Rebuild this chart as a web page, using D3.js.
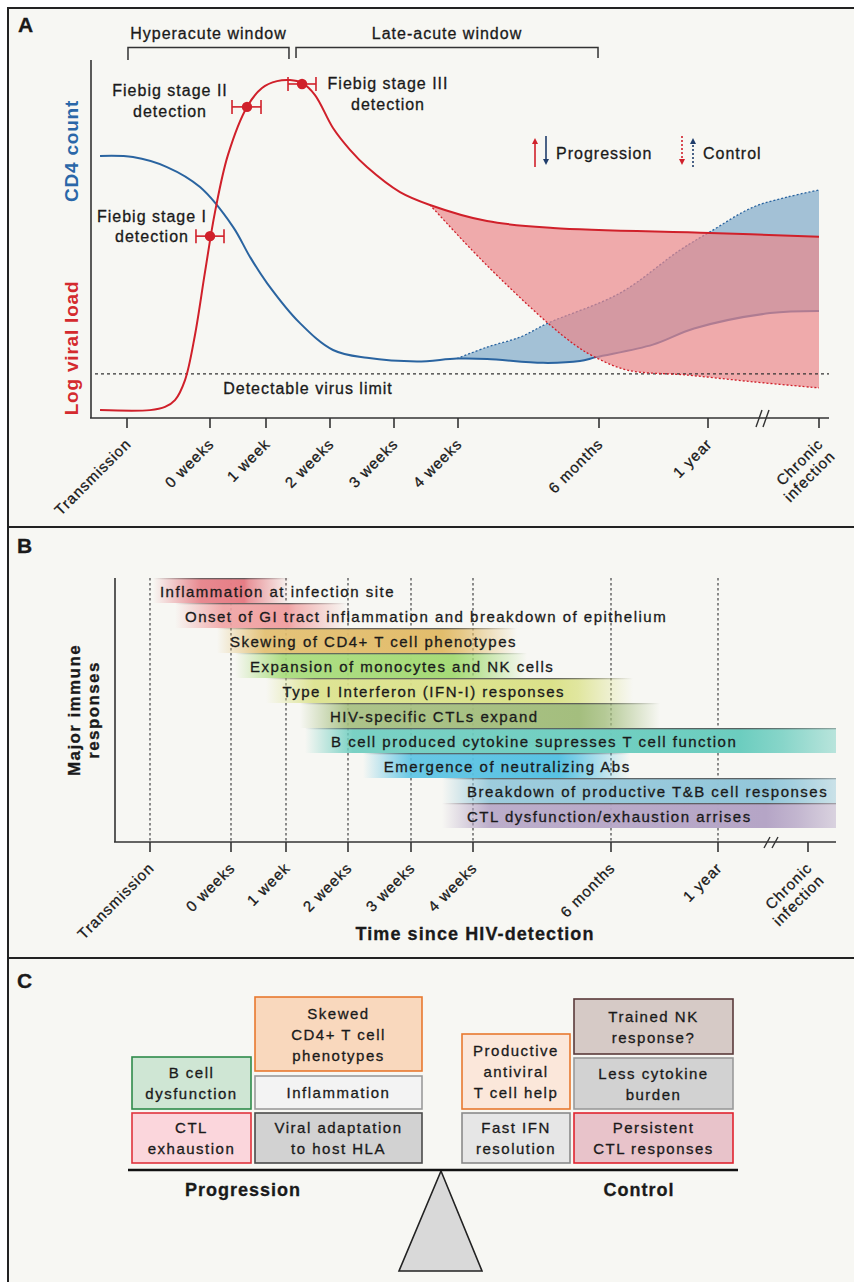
<!DOCTYPE html>
<html><head><meta charset="utf-8">
<script src="https://cdn.jsdelivr.net/npm/d3@7"></script>
<style>
body{margin:0;background:#fff}
svg{display:block}
text{font-family:"Liberation Sans",Arial,Helvetica,sans-serif;fill:#1a1a1a;stroke:#1a1a1a;stroke-width:0.3px}
</style>
</head><body>
<svg id="chart" width="854" height="1282"></svg>
<script>
// ================= DATA =================
// Time axis: tick positions in ordinal time units (0 = Transmission ... 8 = Chronic infection)
const tickTimes  = [0, 1, 2, 3, 4, 5, 6, 7, 8];
const tickLabels = ["Transmission", "0 weeks", "1 week", "2 weeks", "3 weeks", "4 weeks", "6 months", "1 year", "Chronic|infection"];

// Panel A: relative levels (0-100)
const viralLoad = [[-0.325,2.2],[0.277,2.2],[0.458,3.1],[0.578,5.0],[0.699,10.6],[0.819,23.2],[0.940,40.8],[1.089,57.5],[1.321,73.5],[1.661,86.9],[1.929,92.2],[2.172,94.1],[2.375,94.4],[2.563,93.6],[2.766,90.2],[3.047,81.0],[3.313,74.9],[3.578,70.1],[4.094,63.1],[4.563,59.5],[5.206,55.0],[5.674,53.1],[7.018,51.7],[8.0,50.6]];
const cd4Count = [[-0.325,73.2],[0.072,72.9],[0.482,70.1],[0.880,64.5],[1.411,53.4],[1.714,45.0],[2.016,37.7],[2.531,26.5],[3.047,19.0],[3.578,16.8],[4.359,15.8],[4.984,16.6],[5.206,16.5],[5.603,15.4],[5.865,15.9],[5.979,17.0],[6.495,20.5],[6.872,25.0],[7.559,29.3],[8.0,29.9]];
const cd4ControlUpper = [[4.984,16.6],[5.206,19.8],[5.440,22.6],[5.638,26.5],[6.193,34.9],[6.743,46.9],[7.018,52.0],[7.405,58.9],[7.712,61.7],[8.0,63.7]];
const viralControlLower = [[4.563,59.5],[5.099,46.9],[5.369,36.3],[5.638,26.5],[5.830,20.4],[5.957,17.3],[6.257,13.4],[6.807,12.0],[7.405,10.1],[8.0,8.4]];
const detectLimit = 12.3;
const fiebigNames = ["Fiebig stage I", "Fiebig stage II", "Fiebig stage III"];
const fiebigTime  = [1.0, 1.661, 2.563];
const fiebigLo    = [0.831, 1.393, 2.344];
const fiebigHi    = [1.25, 1.911, 2.781];
const fiebigLevel = [50.8, 86.9, 93.3];
const windowNames = ["Hyperacute window", "Late-acute window"];
const windowFrom  = [0.012, 2.469];
const windowTo    = [2.359, 5.993];

// Panel B
const responses = ["Inflammation at infection site","Onset of GI tract inflammation and breakdown of epithelium","Skewing of CD4+ T cell phenotypes","Expansion of monocytes and NK cells","Type I Interferon (IFN-I) responses","HIV-specific CTLs expand","B cell produced cytokine supresses T cell function","Emergence of neutralizing Abs","Breakdown of productive T&B cell responses","CTL dysfunction/exhaustion arrises"];
const respStart   = [0.037, 0.309, 0.827, 1.073, 1.636, 2.226, 2.306, 3.238, 4.5, 4.5];
const respEnd     = [2.065, 2.984, 5.319, 5.391, 6.206, 6.458, 8.311, 6.178, 8.311, 8.311];
const respLabelAt = [0.123, 0.432, 0.988, 1.345, 1.935, 2.710, 2.726, 3.567, 4.903, 4.903];

// Panel C
const progressionFactors = ["B cell|dysfunction","CTL|exhaustion","Skewed|CD4+ T cell|phenotypes","Inflammation","Viral adaptation|to host HLA"];
const controlFactors = ["Productive|antiviral|T cell help","Fast IFN|resolution","Trained NK|response?","Less cytokine|burden","Persistent|CTL responses"];

// ================= STYLE / LAYOUT =================
const respColors = ["#e67d85","#f0a2a3","#e2bd6c","#a6db78","#dbe28a","#a4be7e","#6ccdbf","#58c2e3","#93c7da","#b5a5c6"];
const fiebigLabelOff = [[-58,-14,6],[-77,-11,10],[86,5,26]];
const progBoxes = [
  {x:132,y:1057,w:119,h:52,fill:"#cfe6d4",stroke:"#2e8b4a"},
  {x:132,y:1113,w:119,h:50,fill:"#fbd6dc",stroke:"#e0323c"},
  {x:255,y:997,w:167,h:74,fill:"#f9d8bd",stroke:"#e8792f"},
  {x:255,y:1076,w:167,h:33,fill:"#f3f3f3",stroke:"#9a9a9a"},
  {x:255,y:1113,w:167,h:50,fill:"#d2d2d2",stroke:"#4a4a4a"}];
const ctrlBoxes = [
  {x:462,y:1034,w:108,h:75,fill:"#fbe7da",stroke:"#e8792f"},
  {x:462,y:1113,w:108,h:50,fill:"#e6e6e6",stroke:"#8a8a8a"},
  {x:574,y:999,w:159,h:55,fill:"#d6cac6",stroke:"#5a3a3a"},
  {x:574,y:1058,w:159,h:51,fill:"#d2d2d2",stroke:"#9a9a9a"},
  {x:574,y:1113,w:159,h:50,fill:"#e8c3ca",stroke:"#e0232f"}];

const RED = "#d0202a", BLUE = "#2a64a0", NAVY = "#1f3d6b", BG = "#f7f7f3", INK = "#1a1a1a";

const svg = d3.select("#chart");
const defs = svg.append("defs");

// background + frame
svg.append("rect").attr("x",7).attr("y",7).attr("width",847).attr("height",1275).attr("fill",BG);
svg.append("line").attr("x1",7).attr("x2",854).attr("y1",8).attr("y2",8).attr("stroke","#222").attr("stroke-width",2);
svg.append("line").attr("x1",8).attr("x2",8).attr("y1",7).attr("y2",1282).attr("stroke","#222").attr("stroke-width",2);
svg.append("line").attr("x1",7).attr("x2",854).attr("y1",527).attr("y2",527).attr("stroke","#222").attr("stroke-width",2);
svg.append("line").attr("x1",7).attr("x2",854).attr("y1",958).attr("y2",958).attr("stroke","#222").attr("stroke-width",2);

function panelLabel(t, x, y){ svg.append("text").attr("x",x).attr("y",y).attr("font-size",21).attr("font-weight","bold").text(t); }
panelLabel("A",18,32); panelLabel("B",17,553); panelLabel("C",17,988);

function arrowMarker(id, color){
  defs.append("marker").attr("id",id).attr("viewBox","0 0 10 10").attr("refX",5).attr("refY",5)
    .attr("markerWidth",6).attr("markerHeight",8).attr("orient","auto-start-reverse").attr("markerUnits","userSpaceOnUse")
    .append("path").attr("d","M0,0 L10,5 L0,10 Z").attr("fill",color);
}
arrowMarker("arR",RED); arrowMarker("arN",NAVY);

// ================= PANEL A =================
const xA = d3.scaleLinear().domain(tickTimes).range([127,210,266,330,394,458,599,708,819]);
const yA = d3.scaleLinear().domain([0,100]).range([418,60]);
const lineA = d3.line().x(d=>xA(d[0])).y(d=>yA(d[1])).curve(d3.curveCatmullRom.alpha(0.5));
function band(upper, lower){
  const a = lineA(upper), b = lineA(lower.slice().reverse());
  return a + "L" + b.slice(1) + "Z";
}
const gA = svg.append("g");

// blue control band
const cd4Lower = cd4Count.filter(d=>d[0] >= cd4ControlUpper[0][0]);
gA.append("path").attr("d",band(cd4ControlUpper, cd4Lower)).attr("fill","rgb(107,157,195)").attr("fill-opacity",0.6);
gA.append("path").attr("d",lineA(cd4Count)).attr("fill","none").attr("stroke",BLUE).attr("stroke-width",2);
gA.append("path").attr("d",lineA(cd4ControlUpper)).attr("fill","none").attr("stroke",BLUE).attr("stroke-width",1.3).attr("stroke-dasharray","2,2");
// pink control band
const vlUpper = viralLoad.filter(d=>d[0] >= viralControlLower[0][0]);
gA.append("path").attr("d",band(vlUpper, viralControlLower)).attr("fill","rgb(234,135,139)").attr("fill-opacity",0.69);
// detection limit
gA.append("line").attr("x1",95).attr("x2",829).attr("y1",yA(detectLimit)).attr("y2",yA(detectLimit))
  .attr("stroke","#333").attr("stroke-width",1.2).attr("stroke-dasharray","3,3");
gA.append("text").attr("x",308).attr("y",394).attr("text-anchor","middle").attr("font-size",16).attr("letter-spacing",1).text("Detectable virus limit");
// red
gA.append("path").attr("d",lineA(viralLoad)).attr("fill","none").attr("stroke",RED).attr("stroke-width",2);
gA.append("path").attr("d",lineA(viralControlLower)).attr("fill","none").attr("stroke",RED).attr("stroke-width",1.3).attr("stroke-dasharray","2,2");

// Fiebig points
fiebigTime.forEach((t,i)=>{
  const cx = xA(t), cy = yA(fiebigLevel[i]);
  const g = gA.append("g");
  g.append("line").attr("x1",xA(fiebigLo[i])).attr("x2",xA(fiebigHi[i])).attr("y1",cy).attr("y2",cy).attr("stroke",RED).attr("stroke-width",1.6);
  [fiebigLo[i],fiebigHi[i]].forEach(e=>g.append("line").attr("x1",xA(e)).attr("x2",xA(e)).attr("y1",cy-7).attr("y2",cy+7).attr("stroke",RED).attr("stroke-width",1.6));
  g.append("circle").attr("cx",cx).attr("cy",cy).attr("r",5.2).attr("fill",RED);
  const o = fiebigLabelOff[i];
  g.append("text").attr("x",cx+o[0]).attr("y",cy+o[1]).attr("text-anchor","middle").attr("font-size",16).attr("letter-spacing",1).text(fiebigNames[i]);
  g.append("text").attr("x",cx+o[0]).attr("y",cy+o[2]).attr("text-anchor","middle").attr("font-size",16).attr("letter-spacing",1).text("detection");
});

// windows brackets
windowNames.forEach((n,i)=>{
  const x1 = xA(windowFrom[i]), x2 = xA(windowTo[i]);
  gA.append("path").attr("d",`M${x1},${i?58:60}V47.5H${x2}V${i?58:59}`).attr("fill","none").attr("stroke","#333").attr("stroke-width",1.5);
  gA.append("text").attr("x",(x1+x2)/2).attr("y",39).attr("text-anchor","middle").attr("font-size",16).attr("letter-spacing",1).text(n);
});

// axes A
gA.append("line").attr("x1",91).attr("x2",91).attr("y1",60).attr("y2",418).attr("stroke","#333").attr("stroke-width",1.6);
gA.append("line").attr("x1",90).attr("x2",829).attr("y1",418).attr("y2",418).attr("stroke","#333").attr("stroke-width",1.6);
gA.append("path").attr("d","M756,427L762,410M763,427L769,410").attr("stroke","#333").attr("stroke-width",1.4);
function tickLabelsAt(g, xs, axisY, labY){
  tickTimes.forEach((t,i)=>{
    const x = xs(t);
    g.append("line").attr("x1",x).attr("x2",x).attr("y1",axisY).attr("y2",axisY+10).attr("stroke","#333").attr("stroke-width",1.6);
    const parts = tickLabels[i].split("|");
    const tx = g.append("text").attr("transform",`translate(${x+5},${labY}) rotate(-45)`).attr("text-anchor","end").attr("font-size",15).attr("letter-spacing",1);
    parts.forEach((p,j)=>tx.append("tspan").attr("x",0).attr("dy",j?17:0).text(p));
  });
}
tickLabelsAt(gA, xA, 418, 445);

// y-axis titles
gA.append("text").attr("transform","translate(78,151) rotate(-90)").attr("text-anchor","middle").attr("font-size",19).attr("font-weight","bold").attr("letter-spacing",0.8).style("fill","#2a67a8").style("stroke","none").text("CD4 count");
gA.append("text").attr("transform","translate(78,348) rotate(-90)").attr("text-anchor","middle").attr("font-size",19).attr("font-weight","bold").attr("letter-spacing",0.8).style("fill","#d42a2e").style("stroke","none").text("Log viral load");

// legend
function legArrow(x, y1, y2, color, mk, dashed){
  gA.append("line").attr("x1",x).attr("x2",x).attr("y1",y1).attr("y2",y2).attr("stroke",color).attr("stroke-width",1.6)
    .attr("stroke-dasharray",dashed?"2,2":null).attr("marker-end",`url(#${mk})`);
}
legArrow(535,167,141,RED,"arR",false);
legArrow(546,136,162,NAVY,"arN",false);
gA.append("text").attr("x",556).attr("y",159).attr("font-size",16).attr("letter-spacing",1).text("Progression");
legArrow(682,136,162,RED,"arR",true);
legArrow(693,167,141,NAVY,"arN",true);
gA.append("text").attr("x",703).attr("y",159).attr("font-size",16).attr("letter-spacing",1).text("Control");

// ================= PANEL B =================
const xB = d3.scaleLinear().domain(tickTimes).range([150,231,286,348,411,473,611,718,808]);
const rowY = d3.scaleBand().domain(d3.range(responses.length)).range([578,828]).padding(0);
const gB = svg.append("g");
// grid
tickTimes.slice(0,8).forEach(t=>{
  gB.append("line").attr("x1",xB(t)).attr("x2",xB(t)).attr("y1",578).attr("y2",842).attr("stroke","#333").attr("stroke-width",1.1).attr("stroke-dasharray","2.5,2.5");
});
responses.forEach((r,i)=>{
  const x0 = xB(respStart[i]), x1 = Math.min(xB(respEnd[i]), 836), y = rowY(i), h = rowY.bandwidth();
  const open = respEnd[i] > 8;
  const w = x1 - x0;
  const fin = Math.min(0.35, 48/w), fout = open ? 0.9 : 1 - Math.min(0.3, 55/w);
  const gid = "bg"+i, lid = "bl"+i;
  const gr = defs.append("linearGradient").attr("id",gid).attr("gradientUnits","userSpaceOnUse").attr("x1",x0).attr("x2",x1).attr("y1",0).attr("y2",0);
  const stops = [[0,0.0],[fin,0.9],[fout*0.9 + fin*0.1,1],[fout,0.8],[1,open?0.45:0]];
  stops.forEach(s=>gr.append("stop").attr("offset",s[0]).attr("stop-color",respColors[i]).attr("stop-opacity",s[1]));
  const lg = defs.append("linearGradient").attr("id",lid).attr("gradientUnits","userSpaceOnUse").attr("x1",x0).attr("x2",x1).attr("y1",0).attr("y2",0);
  stops.forEach(s=>lg.append("stop").attr("offset",s[0]).attr("stop-color","#555").attr("stop-opacity",s[1]*0.9));
  gB.append("rect").attr("x",x0).attr("y",y).attr("width",w).attr("height",h).attr("fill",`url(#${gid})`);
  gB.append("rect").attr("x",x0).attr("y",y).attr("width",w).attr("height",1.3).attr("fill",`url(#${lid})`);
  gB.append("text").attr("x",xB(respLabelAt[i])).attr("y",y+18.5).attr("font-size",15).attr("letter-spacing",1.5).text(r);
});
gB.append("line").attr("x1",115).attr("x2",115).attr("y1",578).attr("y2",842).attr("stroke","#333").attr("stroke-width",1.6);
gB.append("line").attr("x1",114).attr("x2",836).attr("y1",842).attr("y2",842).attr("stroke","#333").attr("stroke-width",1.6);
gB.append("path").attr("d","M764,848L770,837M772,848L778,837").attr("stroke","#333").attr("stroke-width",1.4);
tickLabelsAt(gB, xB, 842, 869);
gB.append("text").attr("x",475).attr("y",940).attr("text-anchor","middle").attr("font-size",18).attr("font-weight","bold").attr("letter-spacing",1.1).text("Time since HIV-detection");
const yt = gB.append("text").attr("transform","translate(80,710) rotate(-90)").attr("text-anchor","middle").attr("font-size",17).attr("font-weight","bold").attr("letter-spacing",1.4);
yt.append("tspan").attr("x",0).attr("dy",0).text("Major immune");
yt.append("tspan").attr("x",0).attr("dy",19).text("responses");

// ================= PANEL C =================
const gC = svg.append("g");
function boxes(labels, layout){
  labels.forEach((l,i)=>{
    const b = layout[i];
    gC.append("rect").attr("x",b.x).attr("y",b.y).attr("width",b.w).attr("height",b.h).attr("fill",b.fill).attr("stroke",b.stroke).attr("stroke-width",1.6);
    const lines = l.split("|");
    const cy = b.y + b.h/2;
    lines.forEach((s,j)=>{
      gC.append("text").attr("x",b.x+b.w/2).attr("y",cy - (lines.length-1)*10.5 + j*21 + 5.5).attr("text-anchor","middle").attr("font-size",15).attr("letter-spacing",1.5).text(s);
    });
  });
}
boxes(progressionFactors, progBoxes);
boxes(controlFactors, ctrlBoxes);
gC.append("path").attr("d","M441,1171L399,1271L482,1271Z").attr("fill","#d9d9d9").attr("stroke","#222").attr("stroke-width",1.6).attr("stroke-linejoin","miter");
gC.append("line").attr("x1",128).attr("x2",738).attr("y1",1170).attr("y2",1170).attr("stroke","#111").attr("stroke-width",2.5);
gC.append("text").attr("x",243).attr("y",1196).attr("text-anchor","middle").attr("font-size",18).attr("font-weight","bold").attr("letter-spacing",1).text("Progression");
gC.append("text").attr("x",639).attr("y",1196).attr("text-anchor","middle").attr("font-size",18).attr("font-weight","bold").attr("letter-spacing",1).text("Control");
</script>
</body></html>
